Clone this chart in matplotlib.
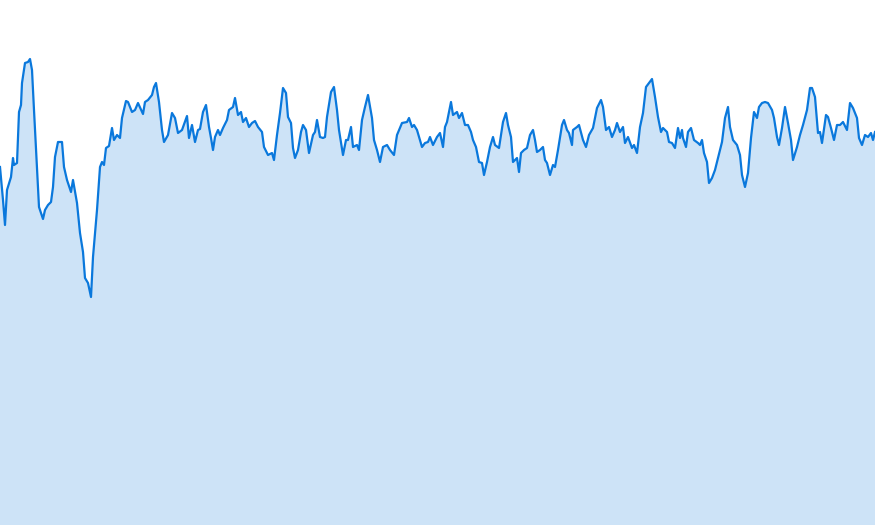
import matplotlib

matplotlib.use("Agg")
import matplotlib.pyplot as plt
import numpy as np

# sample positions and values (no axes shown)
t = [0, 3, 5, 7, 11, 13, 14, 17, 19, 21, 22, 25, 28, 30, 32, 34, 37, 39, 43, 45,
     48, 51, 53, 55, 58, 62, 64, 67, 68, 71, 73, 77, 80, 83, 85, 88, 91, 93, 97, 100,
     102, 104, 106, 109, 112, 114, 117, 120, 122, 126, 128, 132, 135, 138, 143, 145, 148, 152, 154, 156,
     159, 162, 164, 168, 172, 175, 178, 182, 187, 189, 192, 195, 198, 200, 203, 206, 209, 211, 213, 215,
     218, 220, 223, 227, 229, 233, 235, 238, 241, 243, 246, 249, 252, 255, 258, 262, 264, 268, 272, 274,
     277, 280, 283, 286, 288, 291, 293, 295, 298, 301, 303, 306, 309, 313, 315, 317, 320, 323, 325, 327,
     331, 334, 337, 339, 343, 346, 348, 351, 353, 357, 359, 362, 365, 368, 372, 374, 377, 380, 383, 387,
     390, 394, 397, 402, 407, 409, 412, 414, 417, 420, 422, 425, 428, 430, 433, 437, 440, 443, 445, 447,
     451, 453, 457, 459, 462, 465, 468, 471, 473, 476, 479, 482, 484, 487, 490, 493, 495, 499, 503, 506,
     508, 511, 513, 517, 519, 521, 524, 527, 530, 533, 535, 537, 540, 543, 545, 547, 550, 553, 555, 558,
     562, 564, 567, 569, 572, 573, 577, 579, 583, 586, 589, 593, 597, 601, 603, 606, 609, 612, 615, 617,
     620, 623, 625, 628, 632, 634, 637, 640, 643, 646, 649, 652, 655, 658, 661, 663, 667, 669, 672, 675,
     678, 680, 682, 683, 686, 688, 691, 694, 698, 700, 702, 704, 707, 709, 712, 715, 718, 722, 725, 728,
     730, 733, 737, 740, 742, 745, 748, 751, 754, 757, 759, 762, 765, 768, 772, 774, 777, 779, 782, 785,
     788, 791, 793, 797, 800, 803, 807, 810, 812, 815, 818, 820, 822, 826, 828, 831, 834, 837, 840, 843,
     847, 850, 853, 857, 859, 862, 865, 868, 871, 873, 875]
level = [358, 325, 300, 335, 348, 367, 360, 362, 413, 420, 442, 462, 463, 466, 455, 415, 358, 318, 306, 315,
         320, 323, 338, 368, 383, 383, 358, 345, 342, 333, 345, 322, 292, 273, 247, 242, 228, 268, 315, 358,
         363, 360, 377, 379, 397, 385, 390, 387, 407, 424, 423, 413, 415, 422, 411, 423, 425, 430, 438, 442,
         423, 395, 383, 390, 412, 407, 392, 395, 409, 387, 400, 383, 395, 396, 413, 420, 398, 387, 375, 388,
         395, 390, 397, 405, 415, 418, 427, 410, 413, 403, 407, 398, 402, 404, 398, 393, 378, 370, 372, 365,
         390, 412, 437, 432, 408, 402, 377, 367, 375, 393, 400, 395, 372, 390, 393, 405, 388, 387, 388, 408,
         433, 438, 415, 395, 370, 385, 385, 398, 378, 380, 375, 405, 418, 430, 407, 385, 375, 363, 378, 380,
         375, 370, 390, 402, 403, 407, 398, 400, 395, 385, 378, 382, 383, 388, 380, 388, 392, 378, 398, 403,
         423, 410, 413, 407, 412, 400, 400, 393, 385, 378, 363, 362, 350, 363, 378, 388, 380, 377, 403, 412,
         400, 388, 363, 367, 353, 372, 375, 377, 390, 395, 385, 373, 375, 378, 365, 362, 350, 360, 358, 375,
         400, 405, 395, 392, 380, 395, 398, 400, 385, 378, 390, 397, 417, 425, 418, 395, 398, 388, 395, 402,
         393, 398, 382, 388, 377, 380, 372, 398, 412, 438, 442, 446, 428, 408, 393, 397, 393, 383, 382, 377,
         397, 387, 395, 387, 378, 393, 397, 385, 382, 380, 385, 372, 363, 342, 347, 355, 367, 383, 407, 418,
         398, 385, 380, 370, 350, 338, 352, 387, 413, 407, 418, 422, 423, 422, 415, 407, 388, 380, 397, 418,
         402, 385, 365, 378, 390, 400, 415, 437, 437, 428, 392, 393, 382, 410, 408, 397, 385, 400, 400, 403,
         395, 422, 417, 407, 387, 380, 390, 388, 392, 385, 393]

LINE_COLOR = "#0a78dc"
FILL_COLOR = "#cde3f7"

fig = plt.figure(figsize=(8.75, 5.25), dpi=100)
ax = fig.add_axes([0, 0, 1, 1])

x = np.array(t)
y = np.array(level)
ax.fill_between(x, y, 0, color=FILL_COLOR, linewidth=0)
ax.plot(x, y, color=LINE_COLOR, linewidth=1.6, solid_joinstyle="round")

ax.set_xlim(0, 875)
ax.set_ylim(0, 525)
ax.axis("off")

fig.savefig("out.png", dpi=100)
plt.close(fig)
